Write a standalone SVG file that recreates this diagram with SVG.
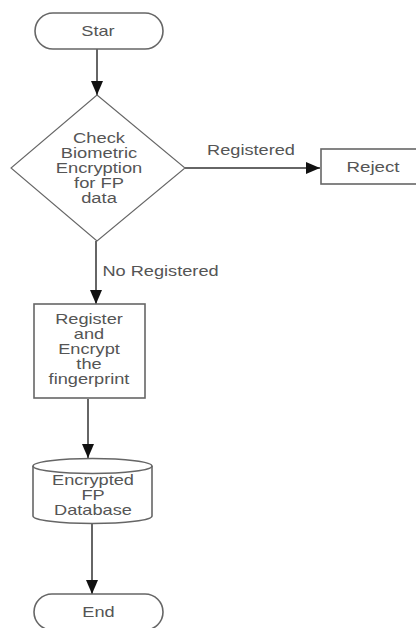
<svg xmlns="http://www.w3.org/2000/svg" width="416" height="628" viewBox="0 0 416 628">
<style>
.shape{fill:#fff;stroke:#666;stroke-width:1.6}
.conn{fill:none;stroke:#666;stroke-width:2}
.t{font-family:"Liberation Sans",Arial,sans-serif;font-size:14px;fill:#555;text-anchor:middle}
</style>
<defs>
<marker id="ah" markerUnits="userSpaceOnUse" markerWidth="14" markerHeight="12" refX="14" refY="6" orient="auto">
<path d="M0,0 L14,6 L0,12 z" fill="#111"/>
</marker>
</defs>
<rect width="416" height="628" fill="#fff"/>
<g id="connectors">
<path class="conn" d="M97,49 L97,95" marker-end="url(#ah)"/>
<path class="conn" d="M185,168 L320,168" marker-end="url(#ah)"/>
<path class="conn" d="M96,241 L96,304" marker-end="url(#ah)"/>
<path class="conn" d="M88,399 L88,458" marker-end="url(#ah)"/>
<path class="conn" d="M92,523 L92,594" marker-end="url(#ah)"/>
<text class="t" transform="translate(251,155) scale(1.3,1)">Registered</text>
<text class="t" transform="translate(160.5,276) scale(1.3,1)">No Registered</text>
</g>
<g id="start">
<rect class="shape" x="35" y="13" width="128" height="36" rx="18" ry="18"/>
<text class="t" transform="translate(98,36) scale(1.3,1)">Star</text>
</g>
<g id="check">
<path class="shape" d="M97,95 L185,168 L97,241 L11,168 Z" style="stroke-width:1.1"/>
<text class="t" transform="translate(99,143) scale(1.31,1)">Check</text>
<text class="t" transform="translate(99,158) scale(1.31,1)">Biometric</text>
<text class="t" transform="translate(99,173) scale(1.31,1)">Encryption</text>
<text class="t" transform="translate(99,188) scale(1.31,1)">for FP</text>
<text class="t" transform="translate(99,203) scale(1.31,1)">data</text>
</g>
<g id="reject">
<rect class="shape" x="321" y="149" width="100" height="35"/>
<text class="t" transform="translate(373,172) scale(1.34,1)">Reject</text>
</g>
<g id="register">
<rect class="shape" x="34" y="304" width="111" height="94"/>
<text class="t" transform="translate(89,324) scale(1.3,1)">Register</text>
<text class="t" transform="translate(89,339) scale(1.3,1)">and</text>
<text class="t" transform="translate(89,354) scale(1.3,1)">Encrypt</text>
<text class="t" transform="translate(89,369) scale(1.3,1)">the</text>
<text class="t" transform="translate(89,384) scale(1.3,1)">fingerprint</text>
</g>
<g id="database">
<path class="shape" d="M33,466 L33,516 A59.5,7.5 0 0 0 152,516 L152,466 A59.5,7.5 0 0 0 33,466 Z"/>
<path class="shape" d="M33,466 A59.5,7.5 0 0 0 152,466" style="fill:none"/>
<text class="t" transform="translate(93,485) scale(1.3,1)">Encrypted</text>
<text class="t" transform="translate(93,500) scale(1.3,1)">FP</text>
<text class="t" transform="translate(93,515) scale(1.3,1)">Database</text>
</g>
<g id="end">
<rect class="shape" x="34" y="594" width="129" height="36" rx="18" ry="18"/>
<text class="t" transform="translate(98.5,617) scale(1.3,1)">End</text>
</g>
</svg>
